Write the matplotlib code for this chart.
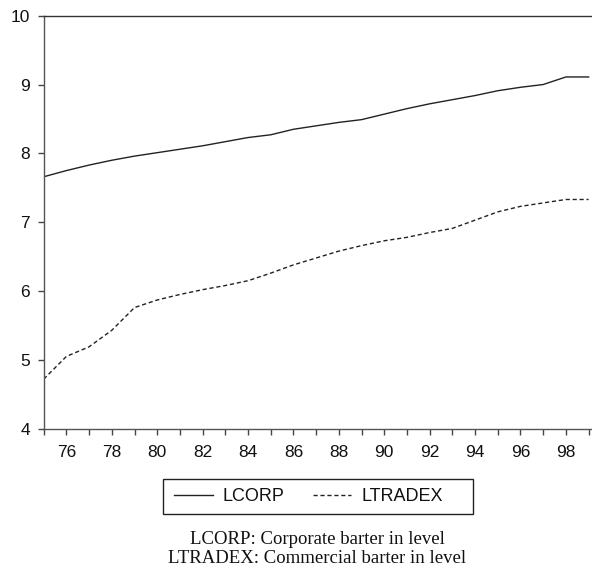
import matplotlib
matplotlib.use("Agg")
import matplotlib.pyplot as plt
from matplotlib.patches import Rectangle

years = list(range(75, 100))
lcorp = [7.66, 7.75, 7.83, 7.90, 7.96, 8.01, 8.06, 8.11, 8.17, 8.23, 8.27, 8.35, 8.40,
         8.45, 8.49, 8.57, 8.65, 8.72, 8.78, 8.84, 8.91, 8.96, 9.00, 9.11, 9.11]
ltradex = [4.72, 5.05, 5.19, 5.43, 5.76, 5.87, 5.95, 6.02, 6.08, 6.15, 6.26, 6.38, 6.48,
           6.58, 6.66, 6.73, 6.78, 6.85, 6.91, 7.03, 7.15, 7.23, 7.28, 7.33, 7.33]
xtick_labels = ["76", "78", "80", "82", "84", "86", "88", "90", "92", "94", "96", "98"]
yticks = [4, 5, 6, 7, 8, 9, 10]
series_names = ["LCORP", "LTRADEX"]
captions = ["LCORP: Corporate barter in level", "LTRADEX: Commercial barter in level"]

W, H = 592, 573
fig = plt.figure(figsize=(W / 100, H / 100), dpi=100)
left = 43.7 / W
bottom = 1 - 428.7 / H
top = 1 - 15.7 / H
ax = fig.add_axes([left, bottom, 1.0 - left, top - bottom])

col = "#222222"
l1, = ax.plot(years, lcorp, color=col, lw=1.0, label=series_names[0])
l2, = ax.plot(years, ltradex, color=col, lw=1.0, linestyle=(0, (3, 2)), label=series_names[1])

ax.set_xlim(75, 99.15)
ax.set_ylim(4, 10)
ax.set_xticks(years)
labmap = {int(s): s for s in xtick_labels}
ax.set_xticklabels([labmap.get(y, "") for y in years])
ax.set_yticks(yticks)
ax.set_yticklabels([str(v) for v in yticks])

for s in ["left", "bottom"]:
    ax.spines[s].set_linewidth(1.0)
    ax.spines[s].set_color("#555555")
ax.spines["top"].set_linewidth(1.0)
ax.spines["top"].set_color("#333333")
ax.spines["right"].set_visible(False)

ax.tick_params(axis="both", direction="out", length=4.5, width=1.0, color="#444444",
               labelsize=12.5)
ax.tick_params(axis="x", pad=7.5)
ax.tick_params(axis="y", pad=5.5)
for t in ax.get_xticklabels() + ax.get_yticklabels():
    t.set_fontfamily("Liberation Sans")
    t.set_color("#111111")

leg = fig.legend(handles=[l1, l2], labels=series_names, loc="center left",
                 bbox_to_anchor=(174 / W, 1 - 496.5 / H), ncol=2, frameon=False,
                 handlelength=2.15, columnspacing=1.55, handletextpad=0.55,
                 borderpad=0.0, borderaxespad=0.0,
                 prop={"family": "Liberation Sans", "size": 13})
for t in leg.get_texts():
    t.set_color("#111111")

fig.patches.append(Rectangle((163 / W, 1 - 514 / H), 310 / W, 35 / H,
                             transform=fig.transFigure, fill=False,
                             edgecolor="#222222", linewidth=1.0))

fig.text(317 / W, 1 - 544 / H, captions[0], ha="center", va="baseline",
         family="Liberation Serif", fontsize=13.5, color="#111111")
fig.text(317 / W, 1 - 562.7 / H, captions[1], ha="center", va="baseline",
         family="Liberation Serif", fontsize=13.5, color="#111111")

fig.savefig("out.png", dpi=100)
